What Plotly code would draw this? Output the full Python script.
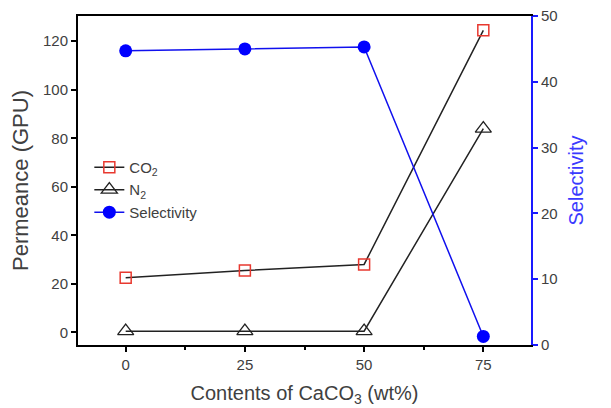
import plotly.graph_objects as go

x_vals = [0, 25, 50, 75]
co2 = [22.5, 25.5, 28.0, 124.5]
n2 = [0.5, 0.5, 0.5, 84.0]
selectivity = [44.7, 45.0, 45.3, 1.3]

font_family = "Liberation Sans, Arial, sans-serif"
txt = "#404040"

fig = go.Figure()
fig.add_trace(go.Scatter(x=x_vals, y=co2, name="CO<sub>2</sub>", mode="lines+markers",
                         line=dict(color="#222222", width=1.5),
                         marker=dict(symbol="square-open", size=11, color="#e8382f", line=dict(width=1.5))))
fig.add_trace(go.Scatter(x=x_vals, y=n2, name="N<sub>2</sub>", mode="lines+markers",
                         line=dict(color="#222222", width=1.5),
                         marker=dict(symbol="triangle-up-open", size=14, color="#222222", line=dict(width=1.3))))
fig.add_trace(go.Scatter(x=x_vals, y=selectivity, name="Selectivity", mode="lines+markers", yaxis="y2",
                         line=dict(color="#1010ee", width=1.5),
                         marker=dict(symbol="circle", size=13, color="#0000ff")))

fig.update_layout(
    width=611, height=408,
    margin=dict(l=78, r=80, t=7, b=61),
    paper_bgcolor="white", plot_bgcolor="white",
    font=dict(family=font_family, color=txt, size=15),
    showlegend=True,
    legend=dict(x=0.025, y=0.59, xanchor="left", yanchor="top", bgcolor="rgba(0,0,0,0)",
                font=dict(size=15, color=txt), tracegroupgap=0, itemwidth=30),
    xaxis=dict(range=[-10, 85], tickvals=x_vals, ticktext=[str(v) for v in x_vals],
               showline=True, linecolor="black", linewidth=2, mirror=True,
               ticks="outside", ticklen=5, tickwidth=1.5, tickcolor="black",
               minor=dict(tickvals=[12.5, 37.5, 62.5], ticks="outside", ticklen=3, tickwidth=1.5, tickcolor="black"),
               showgrid=False, zeroline=False, tickfont=dict(size=15, color=txt),
               title=dict(text="Contents of CaCO<sub>3</sub> (wt%)", font=dict(size=20, color=txt), standoff=14)),
    yaxis=dict(range=[-5.2, 130.4], tickvals=[0, 20, 40, 60, 80, 100, 120],
               showline=True, linecolor="black", linewidth=2,
               ticks="outside", ticklen=5, tickwidth=1.5, tickcolor="black",
               showgrid=False, zeroline=False, tickfont=dict(size=15, color=txt),
               title=dict(text="Permeance (GPU)", font=dict(size=22, color=txt), standoff=8)),
    yaxis2=dict(range=[0, 50], tickvals=[0, 10, 20, 30, 40, 50], overlaying="y", side="right",
                showline=True, linecolor="#1a1aff", linewidth=2,
                ticks="outside", ticklen=5, tickwidth=1.5, tickcolor="#1a1aff",
                showgrid=False, zeroline=False, tickfont=dict(size=15, color=txt),
                title=dict(text="Selectivity", font=dict(size=20, color="#3a3aff"), standoff=12)),
)

fig.write_html("out.html")
